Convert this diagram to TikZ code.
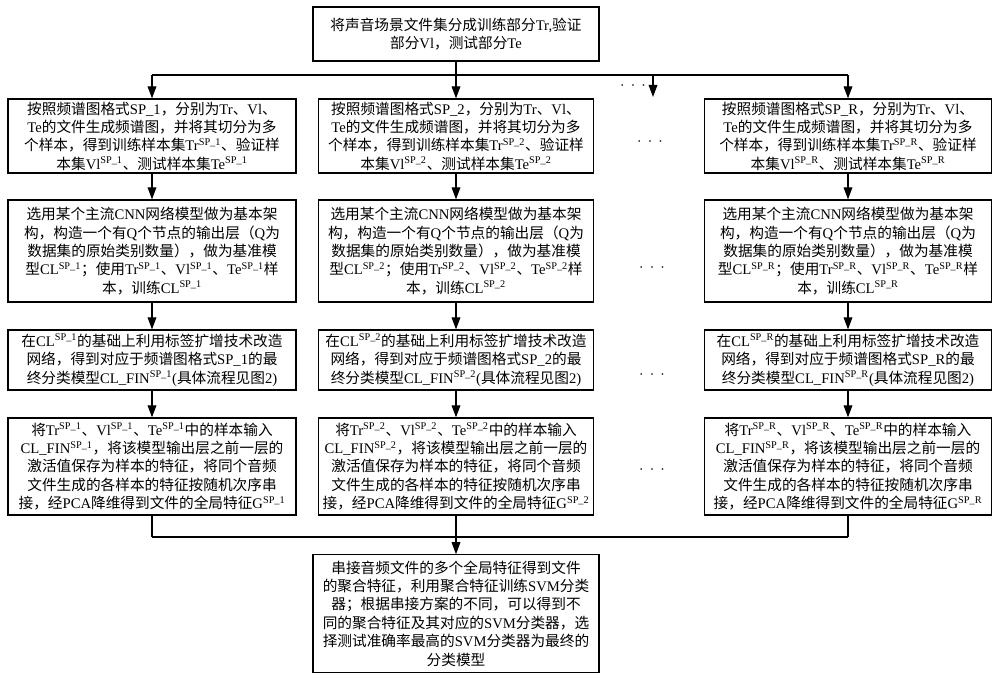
\documentclass[tikz,border=0pt]{standalone}
\usepackage{fontspec}
\setmainfont{Noto Sans CJK SC}
\newfontfamily\lat{Liberation Serif}
\usetikzlibrary{arrows.meta}
\newcommand\la[1]{{\lat #1}}
\newcommand\ssp[1]{\textsuperscript{\lat SP\_#1}}
\newcommand\txtA[1]{按照频谱图格式\la{SP\_#1}，分别为\la{Tr}、\la{Vl}、\\\la{Te}的文件生成频谱图，并将其切分为多\\个样本，得到训练样本集\la{Tr}\ssp{#1}、验证样\\本集\la{Vl}\ssp{#1}、测试样本集\la{Te}\ssp{#1}}
\newcommand\txtB[1]{选用某个主流\la{CNN}网络模型做为基本架\\构，构造一个有\la{Q}个节点的输出层（\la{Q}为\\数据集的原始类别数量），做为基准模\\型\la{CL}\ssp{#1}；使用\la{Tr}\ssp{#1}、\la{Vl}\ssp{#1}、\la{Te}\ssp{#1}样\\本，训练\la{CL}\ssp{#1}}
\newcommand\txtC[1]{在\la{CL}\ssp{#1}的基础上利用标签扩增技术改造\\网络，得到对应于频谱图格式\la{SP\_#1}的最\\终分类模型\la{CL\_FIN}\ssp{#1}\la{(}具体流程见图\la{2)}}
\newcommand\txtD[1]{将\la{Tr}\ssp{#1}、\la{Vl}\ssp{#1}、\la{Te}\ssp{#1}中的样本输入\\\la{CL\_FIN}\ssp{#1}，将该模型输出层之前一层的\\激活值保存为样本的特征，将同个音频\\文件生成的各样本的特征按随机次序串\\接，经\la{PCA}降维得到文件的全局特征\la{G}\ssp{#1}}
\begin{document}
\begin{tikzpicture}[x=0.75pt,y=-0.75pt,
  box/.style={draw, line width=0.9pt, align=center, inner sep=1pt,
    font=\fontsize{11}{13.8}\selectfont},
  wa/.style={minimum width=216pt},
  wb/.style={minimum width=206pt},
  wr/.style={minimum width=215pt},
  ha/.style={minimum height=55.5pt},
  hb/.style={minimum height=76.5pt},
  hc/.style={minimum height=45pt},
  hd/.style={minimum height=72.8pt},
  ln/.style={line width=0.9pt},
  arr/.style={line width=0.9pt, -{Triangle[length=9pt,width=6.5pt]}},
  dots/.style={font=\large}
]
\useasboundingbox[fill=white] (0,0) rectangle (1000,680);

\node[box, minimum width=214.5pt, minimum height=40.5pt] (top) at (456,34)
  {将声音场景文件集分成训练部分\la{Tr,}验证\\部分\la{Vl}，测试部分\la{Te}};

\node[box, wa, ha] (a1) at (152,136) {\txtA{1}};
\node[box, wb, ha] (b1) at (456,136) {\txtA{2}};
\node[box, wr, ha] (r1) at (848,136) {\txtA{R}};

\node[box, wa, hb] (a2) at (152,251) {\txtB{1}};
\node[box, wb, hb] (b2) at (456,251) {\txtB{2}};
\node[box, wr, hb] (r2) at (848,251) {\txtB{R}};

\node[box, wa, hc] (a3) at (152,360) {\txtC{1}};
\node[box, wb, hc] (b3) at (456,360) {\txtC{2}};
\node[box, wr, hc] (r3) at (848,360) {\txtC{R}};

\node[box, wa, hd] (a4) at (152,466.5) {\txtD{1}};
\node[box, wb, hd] (b4) at (456,466.5) {\txtD{2}};
\node[box, wr, hd] (r4) at (848,466.5) {\txtD{R}};

\node[box, minimum width=214.5pt, minimum height=88pt] (bot) at (456,613.5)
  {串接音频文件的多个全局特征得到文件\\的聚合特征，利用聚合特征训练\la{SVM}分类\\器；根据串接方案的不同，可以得到不\\同的聚合特征及其对应的\la{SVM}分类器，选\\择测试准确率最高的\la{SVM}分类器为最终的\\分类模型};

% dots
\node[dots] (d0) at (633,86) {$\cdot\,\cdot\,\cdot$};
\node[dots] (d1) at (650,142) {$\cdot\,\cdot\,\cdot$};
\node[dots] (d2) at (652,268) {$\cdot\,\cdot\,\cdot$};
\node[dots] (d3) at (652,375) {$\cdot\,\cdot\,\cdot$};
\node[dots] (d4) at (652,470) {$\cdot\,\cdot\,\cdot$};

% top distribution
\coordinate (hl) at (0,75);
\coordinate (dt) at (653,75);
\coordinate (db) at (653,97);
\draw[ln] (a1.north |- hl) -- (r1.north |- hl);
\draw[arr] (top.south) -- (b1.north);
\draw[arr] (a1.north |- hl) -- (a1.north);
\draw[arr] (r1.north |- hl) -- (r1.north);
\draw[arr] (dt) -- (db);

% column arrows
\foreach \c in {a,b,r}{
  \draw[arr] (\c1.south) -- (\c2.north);
  \draw[arr] (\c2.south) -- (\c3.north);
  \draw[arr] (\c3.south) -- (\c4.north);
}

% bottom collection
\coordinate (bl) at (0,537);
\draw[ln] (a4.south) -- (a4.south |- bl);
\draw[ln] (r4.south) -- (r4.south |- bl);
\draw[ln] (a4.south |- bl) -- (r4.south |- bl);
\draw[arr] (b4.south) -- (bot.north);
\end{tikzpicture}
\end{document}
